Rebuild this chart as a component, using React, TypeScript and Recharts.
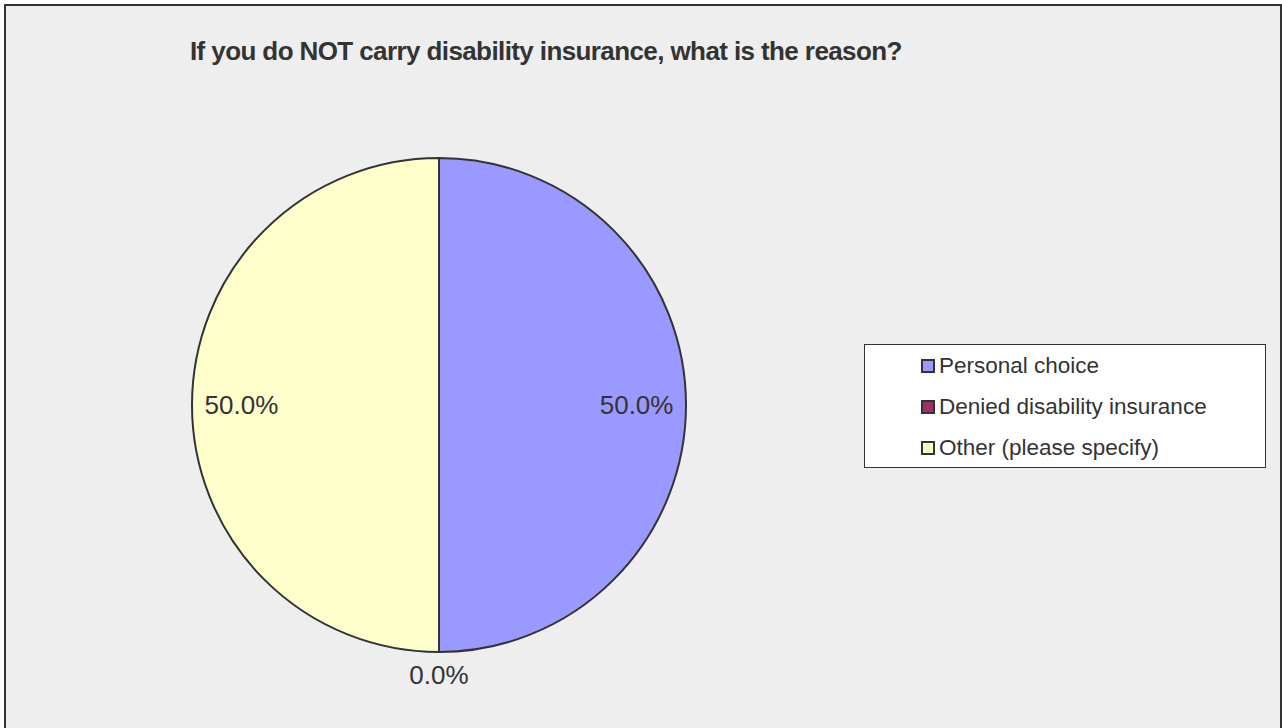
import { Cell, Legend, Pie, PieChart } from 'recharts';

const reasons = ['Personal choice', 'Denied disability insurance', 'Other (please specify)'];
const shares = [50, 0, 50];
const sliceColors = ['#9999FF', '#993366', '#FFFFCC'];

const data = reasons.map((name, i) => ({ name, value: shares[i] }));

const RADIAN = Math.PI / 180;

const renderLabel = (props: any) => {
  const { cx, cy, midAngle, outerRadius, value } = props;
  const r = value === 0 ? outerRadius + 23 : outerRadius * 0.8;
  const x = cx + r * Math.cos(-midAngle * RADIAN);
  const y = cy + r * Math.sin(-midAngle * RADIAN);
  return (
    <text x={x} y={y} fill="#333333" fontSize={26} textAnchor="middle" dominantBaseline="central"
      fontFamily="'Liberation Sans', Arial, sans-serif">
      {value.toFixed(1)}%
    </text>
  );
};

const LegendBox = () => (
  <div style={{ width: 400, height: 122, background: '#fff', border: '1px solid #333', boxSizing: 'content-box',
    fontFamily: "'Liberation Sans', Arial, sans-serif", fontSize: 22.5, color: '#333' }}>
    {reasons.map((name, i) => (
      <div key={name} style={{ position: 'absolute', left: 57, top: 9 + i * 41, height: 26, display: 'flex', alignItems: 'center' }}>
        <span style={{ width: 10, height: 10, border: '2px solid #333', background: sliceColors[i], marginRight: 4, display: 'inline-block' }} />
        <span>{name}</span>
      </div>
    ))}
  </div>
);

export default function App() {
  return (
    <div style={{ position: 'absolute', left: 0, top: 0, width: 1282, height: 728, overflow: 'hidden', background: '#fff' }}>
      <div style={{ position: 'absolute', left: 4, top: 4, width: 1278, height: 740, boxSizing: 'border-box',
        border: '2px solid #333', background: '#EEEEEE' }} />
      <div style={{ position: 'absolute', left: 190, top: 36, fontFamily: "'Liberation Sans', Arial, sans-serif",
        fontSize: 26, fontWeight: 'bold', color: '#333', letterSpacing: -0.6, whiteSpace: 'nowrap', lineHeight: 'normal' }}>
        If you do NOT carry disability insurance, what is the reason?
      </div>
      <div style={{ position: 'absolute', left: 0, top: 0 }}>
        <PieChart width={1282} height={728}>
          <Pie data={data} dataKey="value" nameKey="name" cx={434} cy={400} outerRadius={247}
            startAngle={90} endAngle={-270} stroke="#333333" strokeWidth={2}
            label={renderLabel} labelLine={false} isAnimationActive={false}>
            {data.map((entry, index) => (
              <Cell key={`cell-${index}`} fill={sliceColors[index]} />
            ))}
          </Pie>
          <Legend content={<LegendBox />}
            wrapperStyle={{ position: 'absolute', left: 864, top: 344, width: 402, height: 124, bottom: 'auto', right: 'auto' }} />
        </PieChart>
      </div>
    </div>
  );
}
